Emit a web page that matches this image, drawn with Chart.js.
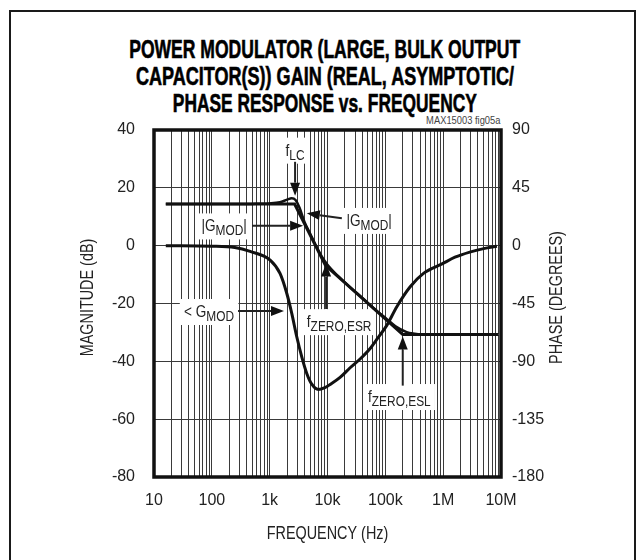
<!DOCTYPE html>
<html>
<head>
<meta charset="utf-8">
<script src="https://cdn.jsdelivr.net/npm/chart.js@4.4.1/dist/chart.umd.min.js"></script>
<style>
  html, body { margin: 0; padding: 0; background: #fff; }
  body { width: 643px; height: 560px; position: relative; overflow: hidden;
         font-family: "Liberation Sans", Arial, sans-serif; }
  .frame { position: absolute; left: 9px; top: 10px; width: 623px; height: 600px;
           border: 2px solid #1a1a1a; border-bottom: none; }
  .title { position: absolute; left: 0; width: 650px; top: 36px; text-align: center;
           font-weight: bold; font-size: 25px; line-height: 27px; color: #000;
           -webkit-text-stroke: 0.6px #000; }
  .title span { display: inline-block; white-space: nowrap; transform-origin: center; }
  .note { position: absolute; right: 143px; top: 114px; font-size: 11px; color: #444;
          transform: scaleX(0.85); transform-origin: right; }
  canvas { position: absolute; left: 0; top: 0; }
</style>
</head>
<body>
<div class="frame"></div>
<div class="title">
  <span>POWER MODULATOR (LARGE, BULK OUTPUT</span><br>
  <span>CAPACITOR(S)) GAIN (REAL, ASYMPTOTIC/</span><br>
  <span>PHASE RESPONSE vs. FREQUENCY</span>
</div>
<div class="note">MAX15003 fig05a</div>
<canvas id="chart" width="643" height="560"></canvas>

<script>
// ---- 軸 ----
const X_DECADES = [10, 100, 1e3, 1e4, 1e5, 1e6, 1e7];
const X_TICK_LABELS = ['10', '100', '1k', '10k', '100k', '1M', '10M'];
const MAG_MIN = -80, MAG_MAX = 40, MAG_STEP = 20;
const PHASE_MIN = -180, PHASE_MAX = 90, PHASE_STEP = 45;

// ---- |GMOD| 実測 ----
const FREQ_REAL = [16, 100, 500, 1000, 1500, 2000, 2400, 2800, 3300, 4000, 5000, 6500, 8000,
  10000, 15000, 25000, 40000, 62000, 106000, 150000, 234000, 300000, 450000, 1e6, 9e6];
const MAG_REAL = [14.4, 14.4, 14.45, 14.6, 15.0, 15.9, 16.4, 15.8, 13.0, 8.2, 4.2, -0.5, -3.8,
  -6.6, -10.4, -14.5, -18.1, -21.5, -25.4, -27.9, -29.9, -30.4, -30.7, -30.7, -30.7];

// ---- |GMOD| 漸近線 ----
const FREQ_ASYM = [16, 2700, 9200, 200000, 9e6];
const MAG_ASYM = [14.4, 14.4, -6.8, -30.7, -30.7];

// ---- <GMOD 位相 ----
const FREQ_PHASE = [16, 100, 250, 458, 1020, 1510, 1980, 2410, 2940, 3590, 4380, 5350, 6970,
  9000, 11100, 16500, 24600, 37000, 54600, 75000, 106000, 158000, 269000, 457000, 977000,
  1.6e6, 2.88e6, 5e6, 8.5e6];
const PHASE = [0, -0.4, -1.5, -4.5, -11.2, -21.6, -37.2, -52.7, -70.9, -86.5, -99.4, -107.8, -111.9,
  -110.5, -108, -102.5, -95, -88, -80, -71.5, -62, -47.5, -32, -21.6, -14,
  -9, -5, -2.3, -0.5];

// 注釈 (周波数, dB)
const CALLOUTS = [
  { parts: [['f'], ['LC', 1]], at: [2750, 33.2], from: [2750, 29], to: [2750, 17.3] },
  { parts: [['|G'], ['MOD', 1], ['|']], at: [163, 7.0], from: [496, 6.9], to: [3790, 6.9] },
  { parts: [['|G'], ['MOD', 1], ['|']], at: [52500, 8.9], from: [17700, 9.45], to: [4390, 11.2] },
  { parts: [['< G'], ['MOD', 1]], at: [89.6, -22.6], from: [284, -22.6], to: [1770, -22.6] },
  { parts: [['f'], ['ZERO,ESR', 1]], at: [15900, -26.1], from: [9460, -21.9], to: [9460, -6.2] },
  { parts: [['f'], ['ZERO,ESL', 1]], at: [175000, -52], from: [200000, -48.4], to: [200000, -31.4] },
];

const FONT = '"Liberation Sans", Arial, sans-serif';
const NARROW = 0.85;
const INK = '#111';
const GRID = '#3a3a3a';

function toPoints(xs, ys) {
  return xs.map((x, i) => ({ x, y: ys[i] }));
}

function xTickLabel(v) {
  const i = X_DECADES.findIndex(d => Math.abs(d - v) / d < 1e-9);
  return i >= 0 ? X_TICK_LABELS[i] : '';
}

function drawRichText(ctx, parts, cx, cy) {
  const big = `16px ${FONT}`, small = `14px ${FONT}`;
  ctx.save();
  ctx.translate(cx, cy);
  ctx.scale(NARROW, 1);
  let w = 0;
  const widths = parts.map(([t, sub]) => {
    ctx.font = sub ? small : big;
    const m = ctx.measureText(t).width;
    w += m;
    return m;
  });
  let x = -w / 2;
  ctx.fillStyle = '#fff';
  ctx.fillRect(x - 5, -12, w + 10, 26);
  ctx.fillStyle = '#222';
  ctx.textBaseline = 'alphabetic';
  ctx.textAlign = 'left';
  parts.forEach(([t, sub], i) => {
    ctx.font = sub ? small : big;
    ctx.fillText(t, x, 6 + (sub ? 4 : 0));
    x += widths[i];
  });
  ctx.restore();
}

function drawArrow(ctx, x1, y1, x2, y2) {
  const ang = Math.atan2(y2 - y1, x2 - x1);
  const hl = 13, hw = 5;
  const bx = x2 - hl * Math.cos(ang), by = y2 - hl * Math.sin(ang);
  ctx.strokeStyle = '#222';
  ctx.lineWidth = 2;
  ctx.beginPath();
  ctx.moveTo(x1, y1);
  ctx.lineTo(bx, by);
  ctx.stroke();
  ctx.fillStyle = '#111';
  ctx.beginPath();
  ctx.moveTo(x2, y2);
  ctx.lineTo(bx + hw * Math.sin(ang), by - hw * Math.cos(ang));
  ctx.lineTo(bx - hw * Math.sin(ang), by + hw * Math.cos(ang));
  ctx.closePath();
  ctx.fill();
}

function drawAxisTitle(ctx, text, x, y, rot) {
  ctx.save();
  ctx.translate(x, y);
  ctx.rotate(rot);
  ctx.scale(0.8, 1);
  ctx.fillText(text, 0, 0);
  ctx.restore();
}

const calloutPlugin = {
  id: 'callouts',
  beforeDatasetsDraw(chart) {
    const { ctx, scales: { x, y } } = chart;
    ctx.save();
    for (const c of CALLOUTS) {
      drawRichText(ctx, c.parts, x.getPixelForValue(c.at[0]), y.getPixelForValue(c.at[1]));
      drawArrow(ctx,
        x.getPixelForValue(c.from[0]), y.getPixelForValue(c.from[1]),
        x.getPixelForValue(c.to[0]), y.getPixelForValue(c.to[1]));
    }
    ctx.restore();
  },
  afterDatasetsDraw(chart) {
    const { ctx, chartArea: a } = chart;
    ctx.save();
    ctx.strokeStyle = INK;
    ctx.lineWidth = 3.5;
    ctx.strokeRect(a.left, a.top, a.right - a.left, a.bottom - a.top);

    // 軸タイトル (縦軸は両方とも下から上へ)
    ctx.fillStyle = '#222';
    ctx.font = `18px ${FONT}`;
    ctx.textAlign = 'center';
    ctx.textBaseline = 'middle';
    const cy = (a.top + a.bottom) / 2 - 6;
    drawAxisTitle(ctx, 'MAGNITUDE (dB)', a.left - 66, cy, -Math.PI / 2);
    drawAxisTitle(ctx, 'PHASE (DEGREES)', a.right + 56, cy, -Math.PI / 2);
    drawAxisTitle(ctx, 'FREQUENCY (Hz)', (a.left + a.right) / 2, a.bottom + 57, 0);
    ctx.restore();
  },
};

new Chart(document.getElementById('chart'), {
  type: 'line',
  data: {
    datasets: [
      {
        label: '|GMOD| asymptotic',
        data: toPoints(FREQ_ASYM, MAG_ASYM),
        borderColor: INK,
        borderWidth: 3,
        tension: 0,
        yAxisID: 'y',
      },
      {
        // 漸近線の中の白い破線
        label: 'asymptotic dash',
        data: toPoints(FREQ_ASYM, MAG_ASYM),
        borderColor: 'rgba(255,255,255,0.85)',
        borderWidth: 1,
        borderDash: [3, 3],
        tension: 0,
        yAxisID: 'y',
      },
      {
        label: '|GMOD|',
        data: toPoints(FREQ_REAL, MAG_REAL),
        borderColor: INK,
        borderWidth: 2.5,
        cubicInterpolationMode: 'monotone',
        yAxisID: 'y',
      },
      {
        label: '< GMOD',
        data: toPoints(FREQ_PHASE, PHASE),
        borderColor: INK,
        borderWidth: 3,
        cubicInterpolationMode: 'monotone',
        yAxisID: 'y1',
      },
    ],
  },
  options: {
    responsive: false,
    animation: false,
    devicePixelRatio: 1,
    layout: { padding: { top: 130, left: 78, right: 60, bottom: 16 } },
    elements: { point: { radius: 0 } },
    plugins: { legend: { display: false }, tooltip: { enabled: false } },
    scales: {
      x: {
        type: 'logarithmic',
        min: 10,
        max: 1e7,
        afterBuildTicks(scale) {
          const ticks = [];
          for (let e = 1; e < 7; e++) {
            for (let m = 1; m < 10; m++) ticks.push({ value: m * Math.pow(10, e) });
          }
          ticks.push({ value: 1e7 });
          scale.ticks = ticks;
        },
        afterFit(scale) { scale.height = 67; },
        grid: { color: GRID, lineWidth: 1, drawTicks: false },
        border: { display: false },
        ticks: {
          autoSkip: false,
          maxRotation: 0,
          padding: 14,
          color: '#222',
          font: { family: FONT, size: 16 },
          callback: v => xTickLabel(v),
        },
      },
      y: {
        position: 'left',
        min: MAG_MIN,
        max: MAG_MAX,
        afterFit(scale) { scale.width = 76; },
        grid: { color: GRID, lineWidth: 1, drawTicks: false },
        border: { display: false },
        ticks: { stepSize: MAG_STEP, padding: 19, color: '#222', font: { family: FONT, size: 16 } },
      },
      y1: {
        position: 'right',
        min: PHASE_MIN,
        max: PHASE_MAX,
        afterFit(scale) { scale.width = 82; },
        grid: { display: false, drawTicks: false },
        border: { display: false },
        ticks: { stepSize: PHASE_STEP, padding: 11, color: '#222', font: { family: FONT, size: 16 } },
      },
    },
  },
  plugins: [calloutPlugin],
});

// タイトル行の幅を合わせる
const TITLE_WIDTHS = [391, 378, 304];
document.querySelectorAll('.title span').forEach((el, i) => {
  const w = el.getBoundingClientRect().width;
  if (w > 0) el.style.transform = `scaleX(${TITLE_WIDTHS[i] / w})`;
});
</script>
</body>
</html>
